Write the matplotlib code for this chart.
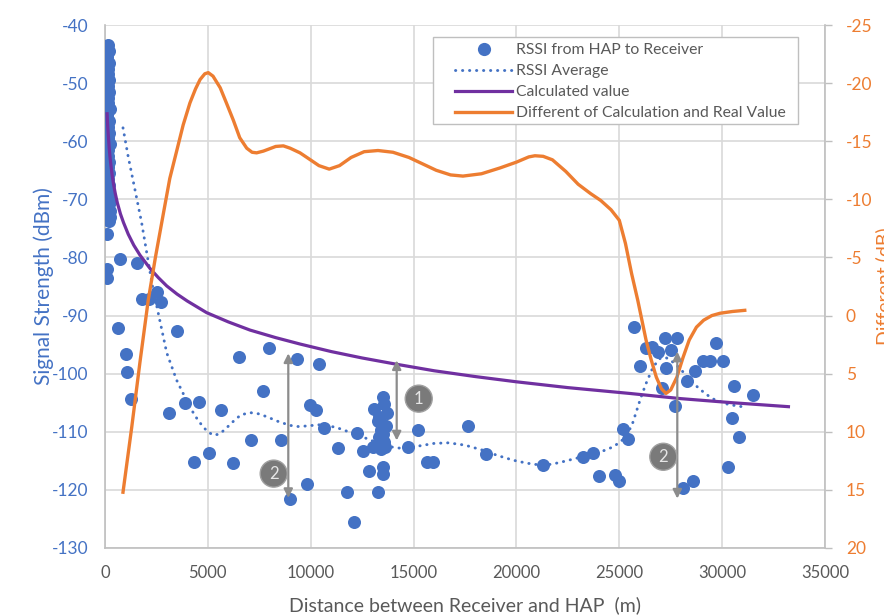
import matplotlib
matplotlib.use("Agg")
import matplotlib.pyplot as plt
from matplotlib.lines import Line2D
from matplotlib.patches import Rectangle

plt.rcParams['font.family'] = ['Lato', 'DejaVu Sans']

# ---------------- data ----------------
# dense column of readings close to the HAP
col_x = [150, 180, 120, 200, 160, 140, 210, 130, 190, 170, 150, 230, 110, 180, 160, 200, 140,
         220, 170, 130, 190, 150, 210, 160, 180, 120, 200, 240, 170, 150, 260, 190, 140, 220]
col_y = [-43.5, -44.5, -45.5, -46.5, -47.5, -48.5, -49.5, -50.5, -51.5, -52.5, -53.5, -54.5,
         -55.5, -56.5, -57.5, -58.5, -59.5, -60.5, -61.5, -62.5, -63.5, -64.5, -65.5, -66.5,
         -67.5, -68.5, -69.5, -70.5, -71.5, -72.5, -73.0, -73.8, -68.0, -72.0]

pts_x = [110, 730, 1540, 110, 110, 1780, 2150, 2510, 2700, 650, 3500, 1010, 1050, 1260, 3100,
         3900, 4580, 5620, 4340, 5070, 6240, 6520, 7080, 7670, 7980, 8560, 9000, 9340, 9800,
         9970, 10260, 10380, 10650, 11320, 11780, 12100, 12240, 12560, 12850, 13260, 13500, 13500,
         13500, 13100, 13700, 13300, 13450, 13400, 13300, 13450, 13040, 13600, 13550, 13350,
         13500, 13250, 13650, 13150, 13550, 13400,
         14750, 15200, 15630, 15960, 17630, 18520, 21300, 23250, 23740, 24000, 24800, 25000,
         25200, 25440, 25700, 26000, 26300, 26600, 26870, 27200, 27270, 27060, 27500, 27800,
         27700, 28100, 28570, 28300, 28700, 29060, 29400, 29700, 30030, 30580, 30500, 30800,
         30300, 31500]
pts_y = [-75.9, -80.3, -80.9, -82.0, -83.6, -87.2, -87.2, -85.9, -87.7, -92.1, -92.6, -96.7,
         -99.7, -104.3, -106.8, -105.0, -104.8, -106.3, -115.2, -113.7, -115.4, -97.2, -111.4,
         -103.0, -95.5, -111.5, -121.5, -97.4, -119.0, -105.4, -106.3, -98.3, -109.4, -112.8,
         -120.3, -125.5, -110.2, -113.3, -116.7, -120.3, -116.1, -117.3,
         -104.0, -106.0, -106.7, -107.4, -108.6, -109.7, -110.9, -112.0, -112.6, -112.6, -105.2,
         -111.5, -110.3, -108.2, -109.0, -112.2, -111.8, -113.0,
         -112.7, -109.7, -115.2, -115.2, -109.0, -113.8, -115.7, -114.3, -113.7, -117.6, -117.5,
         -118.5, -109.6, -111.3, -92.0, -98.6, -95.6, -95.4, -96.2, -93.8, -99.1, -102.5, -96.0,
         -93.9, -105.5, -119.7, -118.5, -101.2, -99.5, -97.9, -97.8, -94.7, -97.8, -102.1,
         -107.7, -110.9, -116.0, -103.7]

avg_x = [875, 1130, 1460, 1780, 2020, 2300, 2590, 3000, 3480, 4130, 4500, 4780, 5000, 5270,
         5550, 5800, 6240, 6600, 7050, 7450, 7860, 8400, 8990, 9400, 9800, 10400, 11200, 12000,
         12900, 13500, 14300, 15000, 16000, 16700, 17500, 18300, 19100, 19850, 20500, 21100,
         21700, 22200, 23200, 24000, 24700, 25100, 25400, 25650, 25850, 26050, 26300, 26650,
         26980, 27250, 27500, 27800, 28100, 28450, 28800, 29200, 29600, 30300, 31000]
avg_y = [-57.7, -62.7, -68.4, -74.0, -79.0, -84.8, -89.6, -96.4, -101.1, -105.8, -107.9, -109.2,
         -110.0, -110.6, -110.4, -109.7, -108.2, -107.1, -106.7, -106.9, -107.4, -108.2, -108.9,
         -109.1, -109.0, -108.8, -109.2, -110.2, -111.4, -112.4, -112.8, -112.6, -112.0, -111.9,
         -112.3, -113.1, -114.1, -114.9, -115.4, -115.7, -115.6, -115.2, -114.3, -113.6, -112.6,
         -111.6, -110.4, -108.5, -106.3, -104.1, -101.7, -98.8, -97.4, -97.2, -97.7, -98.6,
         -99.7, -101.1, -102.3, -103.5, -104.4, -105.3, -105.7]

calc_x = [100, 115, 130, 150, 175, 200, 240, 290, 350, 420, 500, 600, 750, 900, 1130, 1400,
          1700, 2190, 2600, 3000, 3500, 4000, 4940, 6000, 7050, 8300, 9480, 11000, 12500,
          14200, 16000, 18000, 20000, 22500, 25500, 28000, 30500, 33300]
calc_y = [-55.0, -56.3, -57.3, -58.4, -59.7, -61.0, -62.6, -64.2, -65.9, -67.5, -69.0, -70.6,
          -72.5, -74.0, -76.0, -77.9, -79.6, -81.9, -83.5, -84.9, -86.3, -87.5, -89.5, -91.1,
          -92.5, -93.8, -94.9, -96.2, -97.3, -98.4, -99.5, -100.5, -101.4, -102.4, -103.4,
          -104.3, -105.0, -105.7]

diff_x = [875, 1300, 1700, 2100, 2450, 2840, 3150, 3490, 3800, 4130, 4400, 4620, 4850, 5020,
          5250, 5600, 5900, 6240, 6550, 6890, 7150, 7370, 7700, 8000, 8300, 8670, 9000, 9480,
          9900, 10400, 10900, 11400, 11960, 12600, 13270, 14000, 14780, 15500, 16100, 16800,
          17400, 18300, 19200, 20000, 20600, 20900, 21300, 21750, 22400, 23000, 23600, 24100,
          24600, 25000, 25300, 25600, 25900, 26100, 26300, 26550, 26800, 27050, 27270, 27500,
          27800, 28100, 28400, 28750, 29100, 29500, 29900, 30500, 31100]
diff_y = [15.2, 9.6, 4.0, -1.3, -5.0, -8.8, -11.8, -14.2, -16.4, -18.3, -19.5, -20.3, -20.8,
          -20.9, -20.6, -19.6, -18.3, -16.8, -15.3, -14.4, -14.05, -14.0, -14.15, -14.35, -14.55,
          -14.6, -14.4, -14.0, -13.5, -12.9, -12.6, -12.9, -13.6, -14.1, -14.2, -14.05, -13.6,
          -13.0, -12.5, -12.1, -12.0, -12.2, -12.7, -13.2, -13.65, -13.75, -13.7, -13.4, -12.4,
          -11.3, -10.5, -9.9, -9.1, -8.2, -6.2, -3.6, -1.3, 0.4, 2.1, 3.8, 5.3, 6.3, 6.7, 6.4,
          5.3, 3.6, 2.1, 1.0, 0.4, 0.0, -0.2, -0.35, -0.45]

x_ticks = [0, 5000, 10000, 15000, 20000, 25000, 30000, 35000]
y_ticks = [-130, -120, -110, -100, -90, -80, -70, -60, -50, -40]
y2_ticks = [-25, -20, -15, -10, -5, 0, 5, 10, 15, 20]

# annotations: (x, y_top, y_bottom, label, label_x, label_y)
notes = [
    (8910, -96.5, -121.4, '2', 8200, -117.2),
    (14180, -97.7, -111.5, '1', 15250, -104.3),
    (27820, -96.2, -121.5, '2', 27140, -114.3),
]

BLUE = '#4472C4'
PURPLE = '#7030A0'
ORANGE = '#ED7D31'
GRAY = '#595959'
GRID = '#d9d9d9'
DOTS = (0, (0.1, 2.3))

W, H = 884, 615
fig = plt.figure(figsize=(W / 100, H / 100), dpi=100)
ax = fig.add_axes([105 / W, 1 - 548 / H, 720 / W, 523 / H])
ax2 = ax.twinx()

ax.scatter(col_x + pts_x, col_y + pts_y, s=88, color=BLUE, zorder=3, linewidths=0)
ax.plot(avg_x, avg_y, color=BLUE, lw=2.1, linestyle=DOTS, dash_capstyle='round', zorder=4)
ax.plot(calc_x, calc_y, color=PURPLE, lw=2.3, zorder=5, solid_capstyle='butt',
        solid_joinstyle='round')
ax2.plot(diff_x, diff_y, color=ORANGE, lw=2.4, zorder=5, solid_joinstyle='round')

ax.set_xlim(0, 35000)
ax.set_ylim(-130, -40)
ax2.set_ylim(20, -25)
ax.set_xticks(x_ticks)
ax.set_yticks(y_ticks)
ax2.set_yticks(y2_ticks)
ax.set_xticklabels([str(v) for v in x_ticks])
ax.set_yticklabels([str(v) for v in y_ticks])
ax2.set_yticklabels([str(v) for v in y2_ticks])

ax.grid(True, color=GRID, lw=1.2, zorder=0)
ax.set_axisbelow(True)

for a in (ax, ax2):
    for sp in a.spines.values():
        sp.set_visible(False)
for name in ('left', 'bottom'):
    ax.spines[name].set_visible(True)
    ax.spines[name].set_color('#bfbfbf')
    ax.spines[name].set_linewidth(1.2)
ax2.spines['right'].set_visible(True)
ax2.spines['right'].set_color('#bfbfbf')
ax2.spines['right'].set_linewidth(1.2)

ax.tick_params(axis='y', length=0, pad=12, labelsize=12.5, labelcolor=BLUE)
ax.tick_params(axis='x', length=0, pad=12, labelsize=12, labelcolor=GRAY)
ax2.tick_params(axis='y', length=5, width=1, color='#bfbfbf', pad=10, labelsize=12.5,
                labelcolor=ORANGE)

ax.set_xlabel('Distance between Receiver and HAP  (m)', fontsize=14, color=GRAY, labelpad=11)
ax.set_ylabel('Signal Strength (dBm)', fontsize=15, color=BLUE, labelpad=-1.5)
ax2.set_ylabel('Different (dB)', fontsize=14, color=ORANGE, labelpad=2)

for x, yt, yb, lab, lx, ly in notes:
    ax2.annotate('', xy=(x, yt), xytext=(x, yb), xycoords=ax.transData,
                 textcoords=ax.transData,
                 arrowprops=dict(arrowstyle='<|-|>', color='#8c8c8c', lw=1.6,
                                 mutation_scale=13, shrinkA=0, shrinkB=0), zorder=8)
    ax2.text(lx, ly, lab, transform=ax.transData, ha='center', va='center', fontsize=12,
             color='#e6e6e6', zorder=9,
             bbox=dict(boxstyle='circle,pad=0.33', fc='#7a7a7a', ec='#a0a0a0', lw=1))

# legend box (Excel style, wide side padding)
frame = Rectangle((433 / W, 1 - 124 / H), (798 - 433) / W, (124 - 37) / H,
                  transform=fig.transFigure, facecolor='white', edgecolor='#bfbfbf', lw=1.0,
                  zorder=20)
fig.patches.append(frame)

handles = [
    Line2D([], [], linestyle='none', marker='o', markersize=9.5, color=BLUE, markeredgewidth=0),
    Line2D([], [], color=BLUE, lw=2.1, linestyle=DOTS, dash_capstyle='round'),
    Line2D([], [], color=PURPLE, lw=2.3),
    Line2D([], [], color=ORANGE, lw=2.4),
]
labels = ['RSSI from HAP to Receiver', 'RSSI Average', 'Calculated value',
          'Different of Calculation and Real Value']
leg = fig.legend(handles, labels, loc='upper left', bbox_to_anchor=(455 / W, 1 - 43 / H),
                 bbox_transform=fig.transFigure,
                 fontsize=11.3, frameon=False,
                 handlelength=3.65, handletextpad=0.25, labelspacing=0.45, borderpad=0,
                 borderaxespad=0, labelcolor=GRAY)
leg.set_zorder(21)

fig.savefig('out.png', dpi=100)
